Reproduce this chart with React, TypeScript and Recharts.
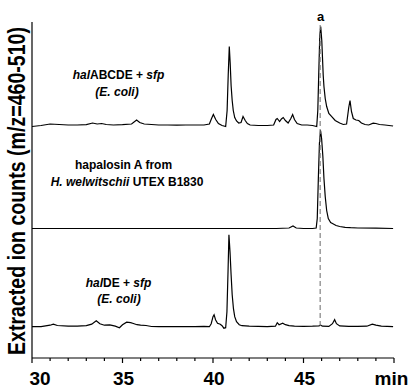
import React from 'react';
import { LineChart, Line, XAxis, YAxis, ReferenceLine } from 'recharts';

// Retention times (min) and relative intensities for each trace
const topTimes = [30.0, 30.5, 31.0, 31.5, 32.0, 32.5, 33.0, 33.35, 33.6, 33.85, 34.1, 34.5, 35.0, 35.5, 35.78, 35.95, 36.2, 36.6, 37.0, 37.5, 38.0, 38.5, 39.0, 39.5, 39.8, 39.92, 40.02, 40.15, 40.3, 40.5, 40.7, 40.78, 40.84, 40.9, 40.95, 41.0, 41.06, 41.12, 41.2, 41.3, 41.42, 41.55, 41.66, 41.78, 41.9, 42.05, 42.5, 43.0, 43.35, 43.48, 43.55, 43.68, 43.78, 43.88, 44.0, 44.15, 44.3, 44.4, 44.5, 44.65, 44.9, 45.2, 45.5, 45.73, 45.79, 45.84, 45.9, 45.95, 46.01, 46.09, 46.13, 46.2, 46.28, 46.4, 46.56, 46.75, 47.0, 47.2, 47.38, 47.5, 47.57, 47.65, 47.75, 47.9, 48.05, 48.2, 48.4, 48.6, 48.85, 49.0, 49.2, 49.5, 49.95];
const topValues = [-1, 0, 1.5, 1, 0.5, 0.5, 0.8, 2.5, 1.5, 2, 1, 0.5, 0.8, 1.5, 5.5, 3, 1.5, 1, 0.5, 0.5, 0.3, 0.5, 0.5, 0.5, 1.5, 7, 11, 6, 2, 0, -1, 15, 50, 79, 62, 40, 25, 15, 8, 4.5, 2.5, 3, 9, 5, 2, 0.5, 0, 0, 0.5, 6, 7, 4, 6.5, 8, 5, 2.5, 7, 11, 6, 2, 0.5, 0.5, 0, -1, 15, 50, 90, 99, 85, 50, 39, 27, 19, 12, 8.8, 5, 2.5, 1, 1.5, 18, 25, 14, 7, 5.5, 5, 2.5, 1, 0.5, 2.3, 2, 1, 0.5, -0.5];

const midTimes = [30.0, 32.0, 34.0, 36.0, 38.0, 40.0, 42.0, 43.5, 44.2, 44.42, 44.6, 45.0, 45.5, 45.7, 45.76, 45.82, 45.88, 45.94, 46.0, 46.07, 46.13, 46.2, 46.28, 46.37, 46.5, 46.6, 46.8, 47.0, 47.3, 47.6, 48.0, 49.0, 49.95];
const midValues = [0, 0, 0, 0, 0, 0, 0, 0, 0.5, 2.5, 0.5, 0, 0, 0.5, 10, 50, 85, 98.5, 90, 72, 50, 32, 18, 10, 6, 5, 3, 2, 1.2, 0.8, 0.5, 0.3, 0];

const botTimes = [30.0, 30.5, 31.0, 31.18, 31.4, 32.0, 32.5, 33.0, 33.3, 33.55, 33.75, 34.0, 34.3, 34.6, 34.83, 35.0, 35.23, 35.45, 35.6, 35.8, 36.0, 36.3, 36.6, 37.0, 38.0, 38.5, 39.0, 39.5, 39.8, 39.9, 40.0, 40.06, 40.14, 40.25, 40.4, 40.5, 40.6, 40.7, 40.77, 40.83, 40.88, 40.94, 41.0, 41.06, 41.13, 41.2, 41.3, 41.45, 41.6, 42.0, 43.0, 43.45, 43.55, 43.65, 43.85, 44.0, 44.2, 44.5, 45.0, 45.5, 45.85, 45.95, 46.05, 46.4, 46.6, 46.72, 46.82, 47.0, 47.5, 48.0, 48.5, 48.8, 49.0, 49.3, 49.95];
const botValues = [0, 0, 1.5, 2.5, 1.2, 0.5, 0.5, 1, 2.5, 6, 3, 1.5, 1.8, 0.5, -1, 2, 4.5, 4, 3.2, 2, 1.5, 1.2, 0.2, 0, 0, 0.2, 0, 0.3, 0, 3, 10, 12, 7, 3.5, 2.5, 1, -1.5, -1, 15, 55, 92, 75, 52, 32, 18, 10, 5, 2, 1, 0.5, 0, 0.5, 4, 2, 3.5, 2, 1, 0.5, 0.3, 0.5, 0.8, 1.5, 0.5, 0.3, 3, 7, 3, 0.8, 0.3, 0.3, 0.5, 2.5, 1.5, 0.5, 0];

const xTicks = [30, 31, 32, 33, 34, 35, 36, 37, 38, 39, 40, 41, 42, 43, 44, 45, 46, 47, 48, 49, 50];
const majorTickLabels: Record<number, string> = { 30: '30', 35: '35', 40: '40', 45: '45', 50: 'min' };

const TOP_OFFSET = 232.5;
const MID_OFFSET = 129.5;
const BOT_OFFSET = 31.3;
const markerTime = 45.92;

const build = (times: number[], values: number[], offset: number) =>
  times.map((t, i) => ({ t, v: values[i] + offset }));

const topData = build(topTimes, topValues, TOP_OFFSET);
const midData = build(midTimes, midValues, MID_OFFSET);
const botData = build(botTimes, botValues, BOT_OFFSET);

const FONT = '"Liberation Sans", Arial, Helvetica, sans-serif';

const XTick = (props: any) => {
  const { x, y, payload } = props;
  const v = payload.value as number;
  const label = majorTickLabels[v];
  const major = label !== undefined;
  let tx = x + 1;
  let anchor: 'start' | 'middle' = 'middle';
  if (v === 30) {
    tx = x - 2.5;
    anchor = 'start';
  }
  if (v === 50) tx = x - 2.5;
  return (
    <g>
      <line x1={x} x2={x} y1={y} y2={y + (major ? 5 : 3)} stroke="#000" strokeWidth={1.2} />
      {major && (
        <text x={tx} y={y + 27} textAnchor={anchor} fontFamily={FONT} fontWeight="bold" fontSize={19} fill="#000">
          {label}
        </text>
      )}
    </g>
  );
};

export default function App() {
  const ann = { fontFamily: FONT, fontWeight: 'bold' as const, fontSize: 12, fill: '#000' };
  return (
    <div style={{ position: 'absolute', left: 0, top: 0, width: 409, height: 389, background: '#fff' }}>
      <LineChart width={409} height={389} margin={{ top: 22, right: 15, bottom: 0, left: 0 }}>
        <XAxis
          dataKey="t"
          type="number"
          domain={[30, 50]}
          ticks={xTicks}
          interval={0}
          allowDataOverflow
          height={31}
          tickLine={false}
          tickSize={0}
          tickMargin={0}
          axisLine={{ stroke: '#000', strokeWidth: 1.2 }}
          tick={<XTick />}
        />
        <YAxis
          type="number"
          domain={[0, 336]}
          allowDataOverflow
          width={32}
          tick={false}
          tickLine={false}
          axisLine={{ stroke: '#000', strokeWidth: 1.2 }}
        />
        <Line data={topData} dataKey="v" type="linear" stroke="#000" strokeWidth={1.2} dot={false} isAnimationActive={false} />
        <Line data={midData} dataKey="v" type="linear" stroke="#000" strokeWidth={1.2} dot={false} isAnimationActive={false} />
        <Line data={botData} dataKey="v" type="linear" stroke="#000" strokeWidth={1.2} dot={false} isAnimationActive={false} />
        <ReferenceLine
          segment={[{ x: markerTime, y: 333 }, { x: markerTime, y: 31 }]}
          stroke="#777"
          strokeDasharray="5 3"
          strokeWidth={1.1}
        />
      </LineChart>
      <svg width={409} height={389} style={{ position: 'absolute', left: 0, top: 0, pointerEvents: 'none' }}>
        <text
          transform="translate(25,191) rotate(-90)"
          textAnchor="middle"
          fontFamily={FONT}
          fontWeight="bold"
          fontSize={23}
          textLength={328}
          lengthAdjust="spacingAndGlyphs"
          fill="#000"
        >
          Extracted ion counts (m/z=460-510)
        </text>
        <text x={320.7} y={20.5} textAnchor="middle" {...ann} fontSize={13}>a</text>
        <text x={118.5} y={79} textAnchor="middle" {...ann}>
          <tspan fontStyle="italic">hal</tspan>ABCDE + <tspan fontStyle="italic">sfp</tspan>
        </text>
        <text x={117} y={96} textAnchor="middle" {...ann} fontStyle="italic">(E. coli)</text>
        <text x={123.5} y={169} textAnchor="middle" {...ann}>hapalosin A from</text>
        <text x={127} y={185.5} textAnchor="middle" {...ann}>
          <tspan fontStyle="italic">H. welwitschii</tspan> UTEX B1830
        </text>
        <text x={118.5} y={286.5} textAnchor="middle" {...ann}>
          <tspan fontStyle="italic">hal</tspan>DE + <tspan fontStyle="italic">sfp</tspan>
        </text>
        <text x={119} y={303} textAnchor="middle" {...ann} fontStyle="italic">(E. coli)</text>
      </svg>
    </div>
  );
}
